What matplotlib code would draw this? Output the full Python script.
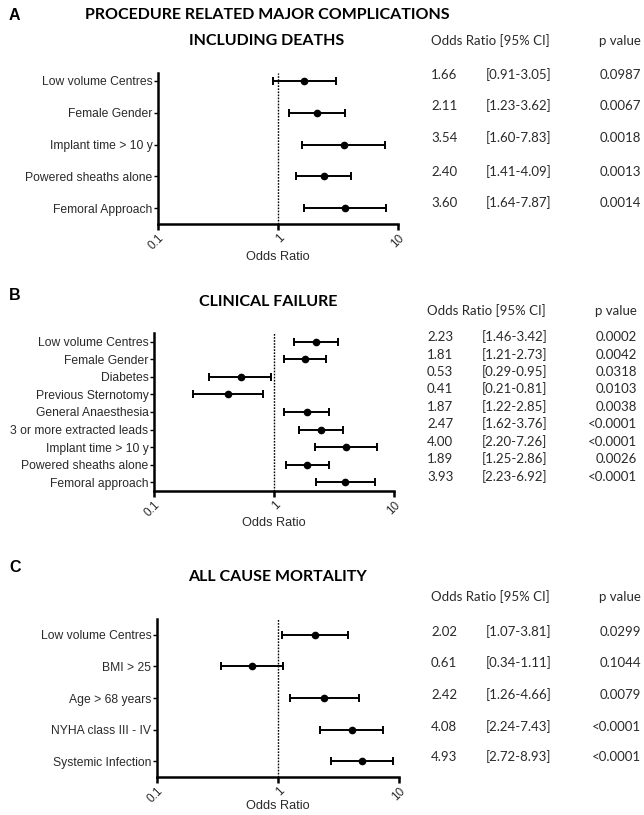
import matplotlib
matplotlib.use("Agg")
import matplotlib.pyplot as plt
import numpy as np

W, H = 644, 815

# Panel A
a_labels = ["Low volume Centres", "Female Gender", "Implant time > 10 y",
            "Powered sheaths alone", "Femoral Approach"]
a_or = [1.66, 2.11, 3.54, 2.40, 3.60]
a_lo = [0.91, 1.23, 1.60, 1.41, 1.64]
a_hi = [3.05, 3.62, 7.83, 4.09, 7.87]
a_p = ["0.0987", "0.0067", "0.0018", "0.0013", "0.0014"]

# Panel B
b_labels = ["Low volume Centres", "Female Gender", "Diabetes", "Previous Sternotomy",
            "General Anaesthesia", "3 or more extracted leads", "Implant time > 10 y",
            "Powered sheaths alone", "Femoral approach"]
b_or = [2.23, 1.81, 0.53, 0.41, 1.87, 2.47, 4.00, 1.89, 3.93]
b_lo = [1.46, 1.21, 0.29, 0.21, 1.22, 1.62, 2.20, 1.25, 2.23]
b_hi = [3.42, 2.73, 0.95, 0.81, 2.85, 3.76, 7.26, 2.86, 6.92]
b_p = ["0.0002", "0.0042", "0.0318", "0.0103", "0.0038", "<0.0001", "<0.0001",
       "0.0026", "<0.0001"]

# Panel C
c_labels = ["Low volume Centres", "BMI > 25", "Age > 68 years", "NYHA class III - IV",
            "Systemic Infection"]
c_or = [2.02, 0.61, 2.42, 4.08, 4.93]
c_lo = [1.07, 0.34, 1.26, 2.24, 2.72]
c_hi = [3.81, 1.11, 4.66, 7.43, 8.93]
c_p = ["0.0299", "0.1044", "0.0079", "<0.0001", "<0.0001"]

x_ticks = [0.1, 1, 10]
x_ticklabels = ["0.1", "1", "10"]

fig = plt.figure(figsize=(W / 100, H / 100), dpi=100)
fig.patch.set_facecolor("white")

LAB_FONT = "Liberation Sans"
TAB_FONT = "Lato"
TXT = "#2a2a2a"
TAB_SIZE = 9.5


def px(x, y):
    return x / W, 1 - y / H


def forest(top, bottom, left, width, labels, ors, lo, hi, ylim, label_y):
    ax = fig.add_axes([left / W, 1 - bottom / H, width / W, (bottom - top) / H])
    n = len(labels)
    y = np.arange(n)
    ors = np.array(ors)
    xerr = [ors - np.array(lo), np.array(hi) - ors]
    ax.errorbar(ors, y, xerr=xerr, fmt="o", color="black", ms=4.5,
                elinewidth=1.4, capsize=3.0, capthick=1.4, zorder=3)
    ax.axvline(1, color="black", ls=(0, (1.2, 1.0)), lw=1.0, zorder=1)
    ax.set_xscale("log")
    ax.set_xlim(0.1, 10)
    ax.set_ylim(*ylim)
    ax.set_yticks(y)
    ax.set_yticklabels(labels, fontsize=8.7, family=LAB_FONT, color=TXT)
    ax.set_xticks(x_ticks)
    ax.set_xticklabels(x_ticklabels, fontsize=8.5, family=LAB_FONT, color=TXT,
                       rotation=45, ha="right", rotation_mode="anchor")
    ax.xaxis.set_minor_locator(matplotlib.ticker.NullLocator())
    for s in ["top", "right"]:
        ax.spines[s].set_visible(False)
    for s in ["left", "bottom"]:
        ax.spines[s].set_linewidth(1.8)
    ax.tick_params(axis="y", length=3, width=1.0, pad=1)
    ax.tick_params(axis="x", length=4, width=1.8, pad=2)
    ax.set_xlabel("Odds Ratio", fontsize=9.2, family=LAB_FONT, color=TXT,
                  va="center")
    ax.xaxis.set_label_coords(0.5, -(label_y - bottom) / (bottom - top))
    return ax


axA = forest(73, 224, 158, 240, a_labels, a_or, a_lo, a_hi, (4.5, -0.25), 257)
axB = forest(333, 491, 154, 240, b_labels, b_or, b_lo, b_hi, (8.5, -0.5), 523)
axC = forest(619, 777, 157, 242, c_labels, c_or, c_lo, c_hi, (4.5, -0.5), 806)


def text(x, y, s, **kw):
    fx, fy = px(x, y)
    fig.text(fx, fy, s, va="center", **kw)


# Panel letters and titles
for letter, ly in [("A", 16), ("B", 295), ("C", 567)]:
    text(9, ly, letter, fontsize=11.5, fontweight="bold", family=LAB_FONT, color="black")

text(267, 15, "PROCEDURE RELATED MAJOR COMPLICATIONS", fontsize=11.5, fontweight="bold",
     family=TAB_FONT, color="black", ha="center")
text(267, 41, "INCLUDING DEATHS", fontsize=11.5, fontweight="bold",
     family=TAB_FONT, color="black", ha="center")
text(268, 302, "CLINICAL FAILURE", fontsize=11.5, fontweight="bold",
     family=TAB_FONT, color="black", ha="center")
text(277, 577, "ALL CAUSE MORTALITY", fontsize=11.5, fontweight="bold",
     family=TAB_FONT, color="black", ha="center")


def table(hy, rows_y, x1, x2, xp, ors, lo, hi, pv):
    text(x1, hy, "Odds Ratio [95% CI]", fontsize=TAB_SIZE, family=TAB_FONT, color=TXT)
    text(xp, hy, "p value", fontsize=TAB_SIZE, family=TAB_FONT, color=TXT, ha="right")
    for yy, o, l, h, p in zip(rows_y, ors, lo, hi, pv):
        text(x1, yy, f"{o:.2f}", fontsize=TAB_SIZE, family=TAB_FONT, color=TXT)
        text(x2, yy, f"[{l:.2f}-{h:.2f}]", fontsize=TAB_SIZE, family=TAB_FONT, color=TXT)
        text(xp, yy, p, fontsize=TAB_SIZE, family=TAB_FONT, color=TXT, ha="right")


table(41, [75, 106, 138, 172, 203], 431, 486, 641, a_or, a_lo, a_hi, a_p)
table(311, [337, 355, 372, 389, 407, 424, 442, 459, 477], 427, 482, 637,
      b_or, b_lo, b_hi, b_p)
table(597, [632, 663, 695, 727, 757], 431, 486, 641, c_or, c_lo, c_hi, c_p)

fig.savefig("out.png", dpi=100, facecolor="white")
